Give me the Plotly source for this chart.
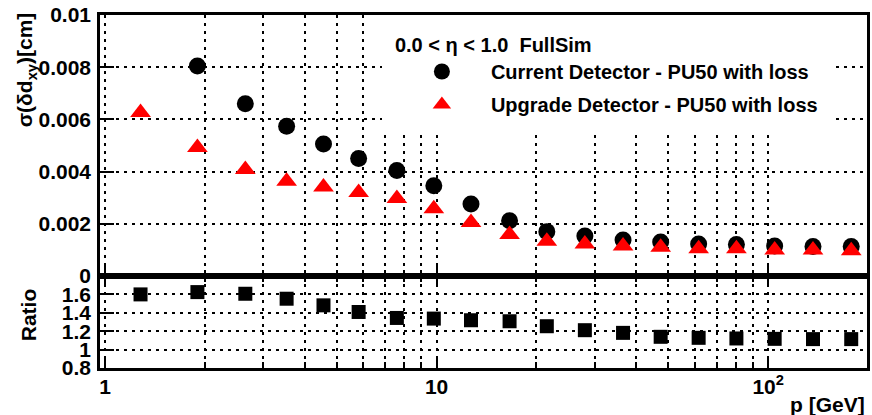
import plotly.graph_objects as go

# ---------------- data ----------------
p_gev = [1.28, 1.90, 2.65, 3.53, 4.56, 5.82, 7.59, 9.81, 12.7, 16.6,
         21.5, 28.0, 36.5, 47.4, 61.7, 80.2, 104.6, 136.5, 178.0]
sigma_current = [None, 0.00805, 0.00660, 0.00574, 0.00506, 0.00450, 0.00404,
                 0.00346, 0.00276, 0.00212, 0.00170, 0.00153, 0.00138, 0.00130,
                 0.00123, 0.00121, 0.00115, 0.00113, 0.00113]
sigma_upgrade = [0.00626, 0.00492, 0.00408, 0.00363, 0.00341, 0.00320, 0.00297,
                 0.00258, 0.00205, 0.00159, 0.00133, 0.00123, 0.00115, 0.00110,
                 0.00104, 0.00104, 0.00100, 0.00100, 0.00097]
ratio = [1.600, 1.625, 1.607, 1.553, 1.481, 1.409, 1.344, 1.337, 1.319, 1.308,
         1.254, 1.211, 1.182, 1.139, 1.128, 1.121, 1.117, 1.114, 1.114]

series_names = ["Current Detector - PU50 with loss",
                "Upgrade Detector - PU50 with loss"]
header_text = "0.0 < η < 1.0  FullSim"

y_top_ticks = [0, 0.002, 0.004, 0.006, 0.008, 0.01]
y_top_labels = ["0", "0.002", "0.004", "0.006", "0.008", "0.01"]
y_bot_ticks = [0.8, 1.0, 1.2, 1.4, 1.6]
y_bot_labels = ["0.8", "1", "1.2", "1.4", "1.6"]
x_major = [1, 10, 100]
x_major_labels = ["1", "10", "10<sup>2</sup>"]
x_minor = [2, 3, 4, 5, 6, 7, 8, 9, 20, 30, 40, 50, 60, 70, 80, 90]

# ---------------- styling ----------------
FONT = "Liberation Sans, Arial, Helvetica, sans-serif"
W, H = 872, 415
ML, MR, MT, MB = 100, 2, 15, 47
PW, PH = W - ML - MR, H - MT - MB
split = 92 / PH  # ratio pad height fraction

def px_x(x):
    return (x - ML) / PW

def px_y(y):
    return (H - MB - y) / PH

grid = dict(showgrid=True, gridcolor="black", gridwidth=2, griddash="3px,5px")
minor = dict(tickvals=x_minor, ticks="inside", ticklen=6, tickwidth=2,
             tickcolor="black", showgrid=True, gridcolor="black", gridwidth=2,
             griddash="3px,5px")
axis_common = dict(showline=True, linecolor="black", linewidth=2.5,
                   ticks="inside", tickcolor="black", tickwidth=2,
                   zeroline=False)
tickfont = dict(family=FONT, size=21, color="black", weight="bold")

fig = go.Figure()
fig.add_trace(go.Scatter(
    x=p_gev, y=sigma_current, mode="markers", name=series_names[0],
    marker=dict(symbol="circle", size=17, color="black"),
    xaxis="x", yaxis="y", legendgroup="a"))
fig.add_trace(go.Scatter(
    x=p_gev, y=sigma_upgrade, mode="markers", name=series_names[1],
    marker=dict(symbol="triangle-up", size=18, color="red"),
    xaxis="x", yaxis="y", legendgroup="b"))
fig.add_trace(go.Scatter(
    x=p_gev, y=ratio, mode="markers", showlegend=False,
    marker=dict(symbol="square", size=14, color="black"),
    xaxis="x2", yaxis="y2"))

xrange = [-0.015, 2.298]
fig.update_layout(
    width=W, height=H,
    margin=dict(l=ML, r=MR, t=MT, b=MB),
    paper_bgcolor="white", plot_bgcolor="white",
    font=dict(family=FONT, color="black"),
    showlegend=True,
    legend=dict(x=px_x(383), y=1.0, xanchor="left", yanchor="top",
                bgcolor="white", bordercolor="white", borderwidth=11,
                itemwidth=88, tracegroupgap=4,
                title=dict(text=header_text, side="top",
                           font=dict(family=FONT, size=20, color="black",
                                     weight="bold")),
                font=dict(family=FONT, size=20, color="black", weight="bold")),
    xaxis=dict(type="log", range=xrange, domain=[0, 1], anchor="y",
               tickvals=x_major, ticktext=x_major_labels, showticklabels=False,
               ticklen=11, mirror=True, minor=minor, **grid, **axis_common),
    yaxis=dict(range=[0, 0.01], domain=[split, 1], anchor="x",
               tickvals=y_top_ticks, ticktext=y_top_labels, ticklen=14,
               mirror=True, tickfont=tickfont, ticklabelstandoff=2,
               **grid, **axis_common),
    xaxis2=dict(type="log", range=xrange, domain=[0, 1], anchor="y2",
                matches="x", tickvals=x_major, ticktext=x_major_labels,
                ticklen=11, mirror="ticks", minor=minor, tickfont=tickfont,
                ticklabelstandoff=-2, **grid, **axis_common),
    yaxis2=dict(range=[0.8, 1.8], domain=[0, split], anchor="x2",
                tickvals=y_bot_ticks, ticktext=y_bot_labels, ticklen=14,
                mirror=True, tickfont=tickfont, ticklabelstandoff=2,
                **grid, **axis_common),
    annotations=[
        dict(text="σ(δd<sub>xy</sub>)[cm]", xref="paper", yref="paper",
             x=px_x(26), y=px_y(70), xanchor="center", yanchor="middle",
             textangle=-90, showarrow=False,
             font=dict(family=FONT, size=21, color="black", weight="bold")),
        dict(text="Ratio", xref="paper", yref="paper",
             x=px_x(28), y=px_y(315), xanchor="center", yanchor="middle",
             textangle=-90, showarrow=False,
             font=dict(family=FONT, size=21, color="black", weight="bold")),
        dict(text="p [GeV]", xref="paper", yref="paper",
             x=1.0, y=px_y(404), xanchor="right", yanchor="middle",
             showarrow=False,
             font=dict(family=FONT, size=21, color="black", weight="bold")),
    ],
)

fig.write_html("out.html",
               config={"displayModeBar": False},
               post_script="document.body.style.margin='0';"
                           "document.body.style.overflow='hidden';")
